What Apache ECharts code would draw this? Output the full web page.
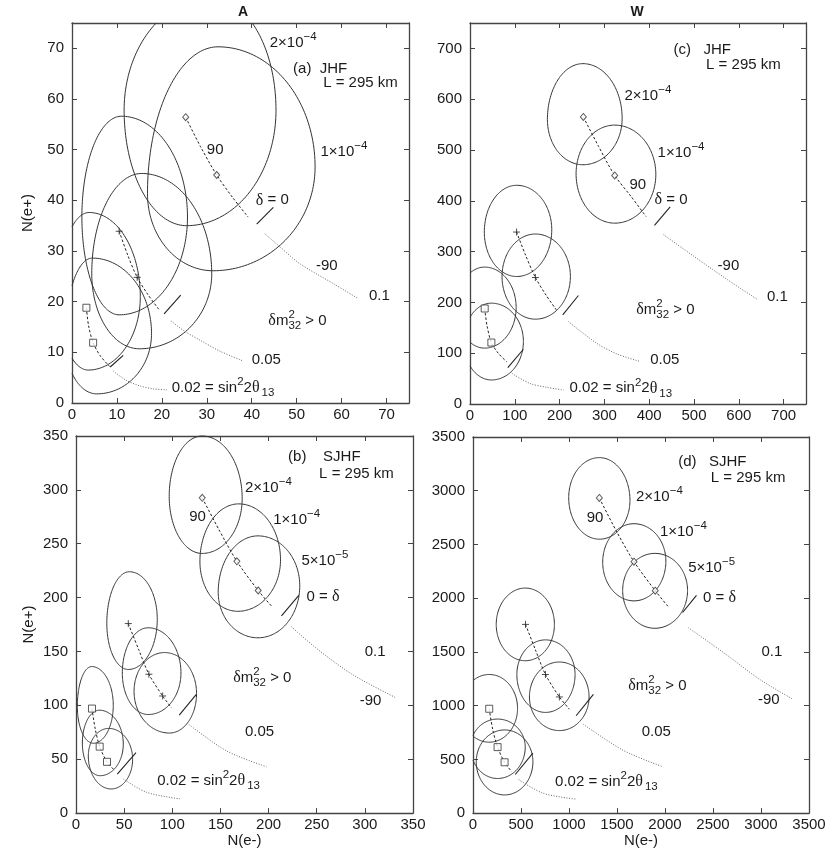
<!DOCTYPE html>
<html><head><meta charset="utf-8">
<script src="https://cdn.jsdelivr.net/npm/echarts/dist/echarts.min.js"></script>
<style>html,body{margin:0;padding:0;background:#fff}#c{width:830px;height:849px}</style>
</head><body><div id="c"></div>
<script>
// ===== DATA =====
// Ellipses: extreme points [xRight,yRight, xTop,yTop, xLeft,yLeft, xBottom,yBottom]
const aEllipses = [
  [45.4,57.8, 31,80, 11.6,57.8, 25.5,35.0],
  [54.1,46.6, 32.5,70.3, 16.8,41.3, 31.4,26.1],
  [25.7,36.7, 11.0,56.6, 2.2,36.7, 10.5,17.4],
  [31.1,25.5, 15.5,45.3, 4.4,25.5, 15.0,10.7],
  [15.2,21.0, 3.8,37.6, -3,21, 3.6,6.5],
  [17.7,13.7, 4.5,28.6, -1.5,12.5, 5.5,1.8]
];
const aDiamonds = [[25.3,56.4],[32.2,45.0]];
const aPluses = [[10.5,33.9],[14.5,24.8]];
const aSquares = [[3.2,18.8],[4.7,11.9]];
const aDashed = [
  [[25.3,56.4],[28.6,50.6],[32.2,45.0],[35.8,40.5],[39.2,36.7]],
  [[10.5,33.9],[12.4,29.2],[14.5,24.8],[16.9,21.4],[19.3,18.5]],
  [[3.2,18.8],[3.7,15.2],[4.7,11.9],[6.3,9.3],[8.4,7.2]]
];
const aDeltaZero = [[[41.1,35.3],[44.8,38.6]],[[20.5,17.6],[24.2,21.3]],[[8.5,7.1],[11.4,9.4]]];
const aDotted = [
  [[42.9,33.4],[46.3,30.8],[50.7,27.5],[58.1,23.6],[63.7,20.6]],
  [[22.0,16.2],[25,14.2],[28.5,12.4],[33,10.2],[38.1,8.3]],
  [[9.2,6.3],[12,4.5],[15,3.4],[18,2.8],[21.1,2.6]]
];
const aLabels = [
  [44,71,'2×10^{−4}'],[49.2,66,'(a)  JHF'],[55.9,63.1,'L = 295 km'],[30,49.9,'90'],
  [55.3,49.6,'1×10^{−4}'],[40.9,40,'δ = 0'],[54.3,27,'-90'],[66.1,21.1,'0.1'],
  [43.7,16.3,'δm^{2}_{32} > 0'],[40,8.6,'0.05'],[22.2,3.0,'0.02 = sin^{2}2θ_{13}']
];

const cEllipses = [
  [339.6,562, 252,670, 172.8,560, 252,471],
  [414.8,452, 323,549, 236.8,453, 323,356],
  [182.5,343, 104.3,430.5, 32,338.5, 104.3,251],
  [224.1,251, 146,334.6, 71.5,251, 146,167],
  [103,190, 32.5,269.5, -30,190, 32.5,110],
  [119.2,123, 47.7,198.5, -14,123, 47.7,47.3]
];
const cDiamonds = [[253,565],[323,450]];
const cPluses = [[104,338.5],[146,249]];
const cSquares = [[32.8,188],[47.7,121]];
const cDashed = [
  [[253,565],[287,507],[323,450],[360,408],[393,369]],
  [[104,338.5],[124,293],[146,249],[170,214],[193,185]],
  [[32.8,188],[38,154],[47.7,121],[63,100],[82,83]]
];
const cDeltaZero = [[[411.8,351.6],[446.8,387.9]],[[207,175.5],[242,213.6]],[[84.4,71.6],[119.2,107.8]]];
const cDotted = [
  [[432,333.3],[500,290.5],[575,244.5],[640.5,206.4]],
  [[219.7,162.3],[283,119.4],[327.7,98.6],[379.7,83.6]],
  [[93.4,60.2],[134,40.4],[171.3,32.9],[208.9,27.4]]
];
const cLabels = [
  [454.3,698,'(c)   JHF'],[527,667,'L = 295 km'],[344.6,606,'2×10^{−4}'],[418.8,494,'1×10^{−4}'],
  [356,431.8,'90'],[412,402,'δ = 0'],[552.6,272,'-90'],[662.8,211.6,'0.1'],
  [371,185,'δm^{2}_{32} > 0'],[402.2,86.7,'0.05'],[222,30.8,'0.02 = sin^{2}2θ_{13}']
];

const bEllipses = [
  [172.6,292, 131,350, 96.8,294, 131,241],
  [212.4,235, 169,287, 128.7,233.5, 168,187.3],
  [232.4,211, 189,257.3, 147.7,205, 189,162.7],
  [84.4,180, 55.5,224, 32,176, 54.3,133.3],
  [109,130, 75,172, 48.1,130, 75,91.5],
  [125.2,111, 92,149, 60.3,113, 97,74.3],
  [38.7,100, 16.3,136, 1.4,99, 18,64.8],
  [49.1,64, 24.2,95.5, 6.6,65, 25,34.7],
  [58.8,50, 34,78.6, 12.8,53, 36.5,22.4]
];
const bDiamonds = [[131.1,292.6],[167.1,233.7],[189.2,206.6]];
const bPluses = [[54.3,175.9],[75.7,128.9],[90,108.7]];
const bSquares = [[16.6,97],[24.6,61.7],[32.2,47.6]];
const bDashed = [
  [[131.1,292.6],[148.5,263],[167.1,233.7],[189.2,206.6],[203,192.2]],
  [[54.3,175.9],[65,152],[75.7,128.9],[90,108.7],[99.3,97.6]],
  [[16.6,97],[20,78],[24.6,61.7],[32.2,47.6],[40.5,39.3]]
];
const bDeltaZero = [[[213.4,183],[231.4,202]],[[107.2,90.9],[125.2,110.5]],[[42.9,36.2],[62.3,56.2]]];
const bDotted = [
  [[223.8,172.9],[249.7,152.9],[287.7,128.3],[332.8,106.8]],
  [[117.2,82.3],[156.4,57.7],[197.9,43]],
  [[49.3,31.6],[73.3,19.3],[107.9,13.2]]
];
const bLabels = [
  [220.3,331,'(b)    SJHF'],[252.5,314.7,'L = 295 km'],[175.4,301.8,'2×10^{−4}'],[117.6,275.1,'90'],
  [204.8,272.6,'1×10^{−4}'],[234.2,234.2,'5×10^{−5}'],[239.4,200.5,'0 = δ'],[299.9,149.8,'0.1'],
  [163.2,125.3,'δm^{2}_{32} > 0'],[294.7,104.4,'-90'],[175.4,75.5,'0.05'],[84.4,30.1,'0.02 = sin^{2}2θ_{13}']
];

const dEllipses = [
  [1635,2910, 1316,3308, 997,2935, 1316,2549],
  [2009,2345, 1677,2693, 1351,2335, 1677,1975],
  [2235,2072, 1895,2417, 1559,2072, 1895,1720],
  [848,1756, 545,2094, 242,1756, 545,1418],
  [1063,1290, 755,1612, 457,1290, 755,937],
  [1209,1081, 900,1406, 588,1081, 900,768],
  [464,975, 169,1290, -126,975, 169,660],
  [544,614, 256,875, -25,614, 256,322],
  [624,478, 329,774, 34,478, 329,169]
];
const dDiamonds = [[1316,2933],[1677,2340],[1898,2070]];
const dPluses = [[547,1756],[755,1290],[900,1081]];
const dSquares = [[169,971],[256,614],[329,473]];
const dDashed = [
  [[1316,2933],[1490,2630],[1677,2340],[1898,2070],[2044,1910]],
  [[547,1756],[650,1520],[755,1290],[900,1081],[1004,967]],
  [[169,971],[205,780],[256,614],[329,473],[405,384]]
];
const dDeltaZero = [[[2183,1867],[2328,2026]],[[1074,906],[1254,1105]],[[440,359],[624,559]]];
const dDotted = [
  [[2242,1726],[2640,1474],[2987,1244],[3333,1059]],
  [[1146,829],[1565,584],[1981,430]],
  [[474,313],[733,184],[1081,129]]
];
const dLabels = [
  [2137,3270,'(d)   SJHF'],[2477,3117,'L = 295 km'],[1697,2942,'2×10^{−4}'],[1185,2748,'90'],
  [1947,2616,'1×10^{−4}'],[2241,2278,'5×10^{−5}'],[2397,2005,'0 = δ'],[3004,1496,'0.1'],
  [1618,1183,'δm^{2}_{32} > 0'],[2969,1050,'-90'],[1757,752,'0.05'],[855,292,'0.02 = sin^{2}2θ_{13}']
];

// axis ranges [min, max, interval]
const aAxis = [0, 75, 10], cAxis = [0, 750, 100], bAxis = [0, 350, 50], dAxis = [0, 3500, 500];
const columnTitles = ['A', 'W'];
const yAxisName = 'N(e+)', xAxisName = 'N(e-)';

// ===== LAYOUT / STYLE =====
const SANS = '"Liberation Sans", Arial, Helvetica, sans-serif';
const SERIF = '"Liberation Serif", "DejaVu Serif", serif';
const INK = '#1a1a1a';
const panels = [
  {grid:{left:72, top:23, width:337, height:380}, axis:aAxis, yName:true, xName:false,
   ell:aEllipses, dia:aDiamonds, plus:aPluses, sq:aSquares, dash:aDashed, seg:aDeltaZero, dot:aDotted, lab:aLabels},
  {grid:{left:470, top:23, width:336, height:381}, axis:cAxis, yName:false, xName:false,
   ell:cEllipses, dia:cDiamonds, plus:cPluses, sq:cSquares, dash:cDashed, seg:cDeltaZero, dot:cDotted, lab:cLabels},
  {grid:{left:76, top:436, width:337, height:380}, axis:bAxis, yName:true, xName:true,
   ell:bEllipses, dia:bDiamonds, plus:bPluses, sq:bSquares, dash:bDashed, seg:bDeltaZero, dot:bDotted, lab:bLabels},
  {grid:{left:473, top:437, width:336, height:380}, axis:dAxis, yName:false, xName:true,
   ell:dEllipses, dia:dDiamonds, plus:dPluses, sq:dSquares, dash:dDashed, seg:dDeltaZero, dot:dDotted, lab:dLabels}
];

// ===== helpers =====
function clipSeg(p, q, x0, y0, x1, y1) {
  let t0 = 0, t1 = 1; const dx = q[0]-p[0], dy = q[1]-p[1];
  const P = [-dx, dx, -dy, dy], Q = [p[0]-x0, x1-p[0], p[1]-y0, y1-p[1]];
  for (let i = 0; i < 4; i++) {
    if (P[i] === 0) { if (Q[i] < 0) return null; }
    else {
      const r = Q[i]/P[i];
      if (P[i] < 0) { if (r > t1) return null; if (r > t0) t0 = r; }
      else { if (r < t0) return null; if (r < t1) t1 = r; }
    }
  }
  return {a:[p[0]+t0*dx, p[1]+t0*dy], b:[p[0]+t1*dx, p[1]+t1*dy], t0, t1};
}
function clipPolyline(pts, x0, y0, x1, y1) {
  const runs = []; let cur = null;
  for (let i = 0; i < pts.length-1; i++) {
    const c = clipSeg(pts[i], pts[i+1], x0, y0, x1, y1);
    if (!c) { if (cur) { runs.push(cur); cur = null; } continue; }
    if (!cur || c.t0 > 1e-9) { if (cur) runs.push(cur); cur = [c.a]; }
    cur.push(c.b);
    if (c.t1 < 1 - 1e-9) { runs.push(cur); cur = null; }
  }
  if (cur) runs.push(cur);
  return runs.filter(r => r.length > 1);
}
function renderEllipse(params, api) {
  const xr = api.value(0), yr = api.value(1), xt = api.value(2), yt = api.value(3);
  const xl = api.value(4), yl = api.value(5), xb = api.value(6), yb = api.value(7);
  const pts = [], N = 200;
  for (let i = 0; i <= N; i++) {
    const t = 2*Math.PI*i/N, c = Math.cos(t), s = Math.sin(t);
    const up = s >= 0, right = c >= 0;
    const x0 = up ? xt : xb, y0 = right ? yr : yl;
    const x = x0 + (right ? (xr - x0) : (x0 - xl)) * c;
    const y = y0 + (up ? (yt - y0) : (y0 - yb)) * s;
    pts.push(api.coord([x, y]));
  }
  const r = params.coordSys;
  const runs = clipPolyline(pts, r.x, r.y, r.x + r.width, r.y + r.height);
  return {type:'group', children: runs.map(run => ({type:'polyline', shape:{points:run},
    style:{fill:null, stroke:'#333', lineWidth:1}}))};
}
const mctx = document.createElement('canvas').getContext('2d');
function tokenize(str) {
  const out = []; let i = 0, buf = '';
  while (i < str.length) {
    const ch = str[i];
    if ((ch === '^' || ch === '_') && str[i+1] === '{') {
      if (buf) { out.push({text:buf, kind:'n'}); buf = ''; }
      const j = str.indexOf('}', i);
      out.push({text:str.slice(i+2, j), kind: ch === '^' ? 'sup' : 'sub'});
      i = j + 1;
    } else { buf += ch; i++; }
  }
  if (buf) out.push({text:buf, kind:'n'});
  return out;
}
function splitRuns(t) {
  const runs = [];
  for (const ch of t) {
    const g = /[\u0370-\u03ff]/.test(ch);
    if (runs.length && runs[runs.length-1].greek === g) runs[runs.length-1].text += ch;
    else runs.push({text:ch, greek:g});
  }
  return runs;
}
function placeToken(tk, x, y0, els) {
  const size = tk.kind === 'n' ? 15 : 11.5;
  const dy = tk.kind === 'sup' ? -6 : tk.kind === 'sub' ? 5 : 0;
  let w = 0;
  for (const r of splitRuns(tk.text)) {
    const fs = r.greek ? size + 1 : size;
    const font = fs + 'px ' + (r.greek ? SERIF : SANS);
    mctx.font = font;
    const rw = mctx.measureText(r.text).width;
    els.push({type:'text', x: x + w, y: y0 + dy,
      style:{text:r.text, font:font, fill:INK, align:'left', verticalAlign:'middle'}});
    w += rw;
  }
  return w;
}
function layoutRich(spec, x0, y0) {
  const toks = tokenize(spec), els = [];
  let x = x0;
  for (let k = 0; k < toks.length; k++) {
    const tk = toks[k];
    if (tk.kind === 'sup' && toks[k+1] && toks[k+1].kind === 'sub') {
      const w1 = placeToken(tk, x, y0, els);
      const w2 = placeToken(toks[k+1], x, y0, els);
      x += Math.max(w1, w2); k++;
    } else {
      if (tk.kind === 'sub') x += 2;
      x += placeToken(tk, x, y0, els);
    }
  }
  return els;
}
function textRenderer(labels) {
  return function (params, api) {
    const p = api.coord([api.value(0), api.value(1)]);
    return {type:'group', children: layoutRich(labels[params.dataIndex][2], p[0], p[1])};
  };
}

// ===== build option =====
const grids = [], xAxes = [], yAxes = [], series = [];
panels.forEach((pn, i) => {
  grids.push(Object.assign({containLabel:false}, pn.grid));
  const [mn, mx, iv] = pn.axis;
  const common = {type:'value', gridIndex:i, min:mn, max:mx, interval:iv, splitLine:{show:false},
    axisLine:{show:true, onZero:false, lineStyle:{color:'#444', width:1.3}},
    axisTick:{show:true, inside:true, length:5, lineStyle:{color:'#444', width:1}}};
  const fmt = v => (Math.abs(v % iv) < 1e-9 ? String(v) : '');
  const lblStyle = {fontSize:15, color:INK, fontFamily:SANS, formatter:fmt};
  xAxes.push(Object.assign({}, common, {position:'bottom', axisLabel:Object.assign({margin:4}, lblStyle),
    name: pn.xName ? xAxisName : '', nameLocation:'middle', nameGap:17,
    nameTextStyle:{fontSize:15, color:INK, fontFamily:SANS}}));
  xAxes.push(Object.assign({}, common, {position:'top', axisLabel:{show:false}}));
  yAxes.push(Object.assign({}, common, {position:'left', axisLabel:Object.assign({margin:8}, lblStyle),
    name: pn.yName ? yAxisName : '', nameLocation:'middle', nameRotate:90, nameGap: i === 0 ? 37 : 40,
    nameTextStyle:{fontSize:15, color:INK, fontFamily:SANS}}));
  yAxes.push(Object.assign({}, common, {position:'right', axisLabel:{show:false}}));
  const ax = {xAxisIndex:2*i, yAxisIndex:2*i};
  series.push(Object.assign({type:'custom', renderItem:renderEllipse, data:pn.ell, encode:{x:0, y:1}, silent:true, z:2}, ax));
  pn.dash.forEach(d => series.push(Object.assign({type:'line', data:d, smooth:0.3, symbol:'none', silent:true, z:3,
    lineStyle:{color:'#222', width:1, type:[2.5,2]}}, ax)));
  pn.seg.forEach(d => series.push(Object.assign({type:'line', data:d, symbol:'none', silent:true, z:3,
    lineStyle:{color:'#222', width:1.1}}, ax)));
  pn.dot.forEach(d => series.push(Object.assign({type:'line', data:d, smooth:0.3, symbol:'none', silent:true, z:3,
    lineStyle:{color:'#666', width:1, type:[1,1.6]}}, ax)));
  series.push(Object.assign({type:'scatter', data:pn.dia, symbol:'diamond', symbolSize:[6,7], silent:true, z:4,
    itemStyle:{color:'#fff', borderColor:'#333', borderWidth:1}}, ax));
  series.push(Object.assign({type:'scatter', data:pn.plus, symbol:'path://M5,0L5,10M0,5L10,5', symbolSize:7, silent:true, z:4,
    itemStyle:{color:'rgba(0,0,0,0)', borderColor:'#222', borderWidth:1}}, ax));
  series.push(Object.assign({type:'scatter', data:pn.sq, symbol:'rect', symbolSize:7, silent:true, z:4,
    itemStyle:{color:'#fff', borderColor:'#333', borderWidth:1}}, ax));
  series.push(Object.assign({type:'custom', renderItem:textRenderer(pn.lab), data:pn.lab.map(l => [l[0], l[1]]),
    encode:{x:0, y:1}, silent:true, z:6}, ax));
});

const chart = echarts.init(document.getElementById('c'), null, {renderer:'canvas'});
chart.setOption({
  animation:false,
  backgroundColor:'#fff',
  grid:grids, xAxis:xAxes, yAxis:yAxes, series:series,
  graphic:[
    {type:'text', x:243, y:12, style:{text:columnTitles[0], font:'bold 14px ' + SANS, fill:INK, align:'center', verticalAlign:'middle'}},
    {type:'text', x:637, y:12, style:{text:columnTitles[1], font:'bold 14px ' + SANS, fill:INK, align:'center', verticalAlign:'middle'}}
  ]
});
</script></body></html>
